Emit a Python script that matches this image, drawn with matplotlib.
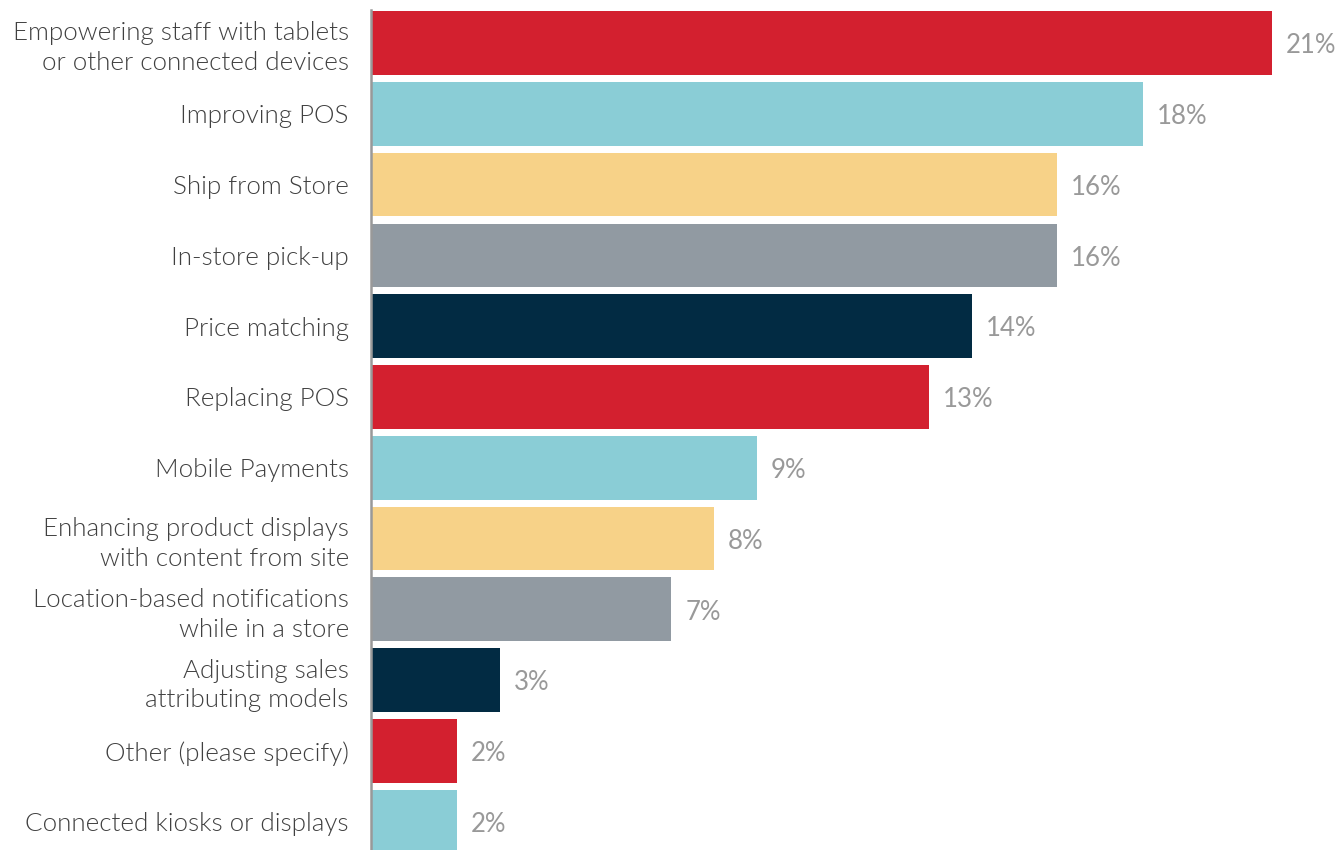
import matplotlib
matplotlib.use("Agg")
import matplotlib.pyplot as plt

# survey answers, top to bottom
categories = [
    "Empowering staff with tablets\nor other connected devices",
    "Improving POS",
    "Ship from Store",
    "In-store pick-up",
    "Price matching",
    "Replacing POS",
    "Mobile Payments",
    "Enhancing product displays\nwith content from site",
    "Location-based notifications\nwhile in a store",
    "Adjusting sales\nattributing models",
    "Other (please specify)",
    "Connected kiosks or displays",
]
values = [21, 18, 16, 16, 14, 13, 9, 8, 7, 3, 2, 2]
palette = ["#D3202F", "#8ACDD6", "#F7D288", "#919AA2", "#022B43"]
colors = [palette[i % len(palette)] for i in range(len(values))]

plt.rcParams['font.family'] = ['Lato', 'DejaVu Sans']

W, H = 1340, 850
fig = plt.figure(figsize=(W / 100, H / 100), dpi=100)
px_per_unit = 42.9
ax = fig.add_axes([371 / W, 0, 22.5 * px_per_unit / W, 840 / H])

ypos = list(range(len(values)))
ax.barh(ypos, values, height=0.9, color=colors, zorder=2)
ax.set_xlim(0, 22.5)
ax.set_ylim(11.40, -0.466)

# value labels, a touch below bar centre like the original
for y, v in zip(ypos, values):
    ax.annotate(f"{v}%", xy=(v, y), xytext=(10, -2), textcoords="offset points",
                va="center", ha="left", fontsize=18.5, color="#999999")

ax.set_yticks(ypos)
ax.set_yticklabels(categories, fontsize=18.7, color="#404040", fontweight=300,
                   linespacing=1.3)
ax.tick_params(axis="y", length=0, pad=16)
ax.set_xticks([])

for s in ["top", "right", "bottom"]:
    ax.spines[s].set_visible(False)
ax.spines["left"].set_color("#999999")
ax.spines["left"].set_linewidth(1.8)
ax.spines["left"].set_zorder(3)

fig.savefig("out.png", dpi=100)
